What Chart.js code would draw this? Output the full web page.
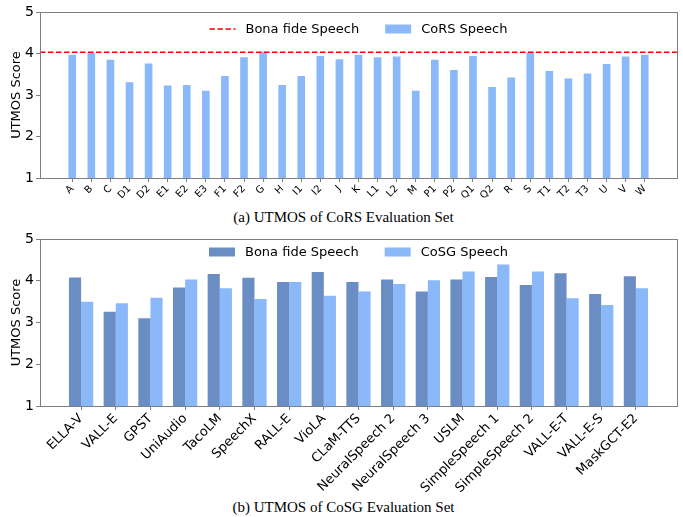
<!DOCTYPE html>
<html>
<head>
<meta charset="utf-8">
<script src="https://cdn.jsdelivr.net/npm/chart.js@4.4.1/dist/chart.umd.min.js"></script>
<style>
  html, body { margin: 0; padding: 0; background: #ffffff; }
  #page { position: relative; width: 683px; height: 517px; overflow: hidden; background: #fff; }
  .box { position: absolute; left: 0; width: 683px; }
  .cap { position: absolute; left: 0; width: 683px; text-align: center; font-family: "Liberation Serif", "Times New Roman", serif; font-size: 15px; color: #000; line-height: 18px; }
</style>
</head>
<body>
<div id="page">
  <div class="box" style="top:0px;height:200px;"><canvas id="c1" width="683" height="200"></canvas></div>
  <div class="cap" style="top:208px;left:2px;">(a) UTMOS of CoRS Evaluation Set</div>
  <div class="box" style="top:225px;height:270px;"><canvas id="c2" width="683" height="270"></canvas></div>
  <div class="cap" style="top:498px;left:2px;">(b) UTMOS of CoSG Evaluation Set</div>
</div>
<script>
// ---- Data: (a) CoRS evaluation set ----
const corsLabels = ['A','B','C','D1','D2','E1','E2','E3','F1','F2','G','H','I1','I2','J','K','L1','L2','M','P1','P2','Q1','Q2','R','S','T1','T2','T3','U','V','W'];
const corsScores = [3.97,4.01,3.85,3.31,3.76,3.23,3.24,3.10,3.46,3.91,4.04,3.24,3.46,3.94,3.86,3.97,3.91,3.93,3.10,3.85,3.60,3.94,3.19,3.42,4.03,3.58,3.40,3.52,3.75,3.93,3.97];
const corsBonaFide = 4.03;

// ---- Data: (b) CoSG evaluation set ----
const cosgLabels = ['ELLA-V','VALL-E','GPST','UniAudio','TacoLM','SpeechX','RALL-E','VioLA','CLaM-TTS','NeuralSpeech 2','NeuralSpeech 3','USLM','SimpleSpeech 1','SimpleSpeech 2','VALL-E-T','VALL-E-S','MaskGCT-E2'];
const cosgBonaFide = [4.08,3.26,3.10,3.84,4.16,4.07,3.97,4.21,3.97,4.03,3.74,4.03,4.09,3.90,4.18,3.68,4.11];
const cosgSpeech   = [3.50,3.46,3.59,4.03,3.82,3.56,3.97,3.64,3.74,3.92,4.01,4.22,4.39,4.22,3.58,3.42,3.82];

const yTicks = [1,2,3,4,5];

const FONT = '"DejaVu Sans", sans-serif';
const AXIS = '#7f7f7f';
const LIGHT = '#8ab8f8';
const DARK = '#6a8ec4';

const frame = {
  id: 'frame',
  afterDatasetsDraw(chart) {
    const a = chart.chartArea, ctx = chart.ctx;
    ctx.save();
    ctx.strokeStyle = AXIS; ctx.lineWidth = 1;
    ctx.strokeRect(Math.round(a.left) + 0.5, Math.round(a.top) + 0.5, Math.round(a.right - a.left), Math.round(a.bottom - a.top));
    ctx.restore();
  }
};

// legend drawn inside the plot area, centred at the top
const inLegend = {
  id: 'inLegend',
  afterDraw(chart, args, opts) {
    const ctx = chart.ctx, a = chart.chartArea;
    const items = opts.items;
    ctx.save();
    ctx.font = '13px ' + FONT;
    const SW = 26, GAP = 10, SEP = 26;
    const widths = items.map(it => SW + GAP + ctx.measureText(it.text).width);
    const total = widths.reduce((s, w) => s + w, 0) + SEP * (items.length - 1);
    let x = (a.left + a.right) / 2 - total / 2;
    const y = a.top + opts.dy;
    items.forEach((it, i) => {
      if (it.kind === 'line') {
        ctx.strokeStyle = it.color; ctx.lineWidth = 1.5; ctx.setLineDash([5.5, 2.5]);
        ctx.beginPath(); ctx.moveTo(x, y); ctx.lineTo(x + SW, y); ctx.stroke();
        ctx.setLineDash([]);
      } else {
        ctx.fillStyle = it.color; ctx.fillRect(x, y - 4.5, SW, 9);
      }
      ctx.fillStyle = '#000'; ctx.textBaseline = 'middle'; ctx.textAlign = 'left';
      ctx.fillText(it.text, x + SW + GAP, y + 0.5);
      x += widths[i] + SEP;
    });
    ctx.restore();
  }
};

function xAxis(labels, min, max, fontSize, axisHeight) {
  return {
    type: 'linear', min: min, max: max, offset: false,
    afterBuildTicks: s => { s.ticks = labels.map((l, i) => ({ value: i })); },
    afterFit: s => { s.height = axisHeight; s.paddingLeft = 0; s.paddingRight = 0; },
    ticks: { autoSkip: false, maxRotation: 45, minRotation: 45, padding: 1,
             font: { family: FONT, size: fontSize }, color: '#000',
             callback: v => labels[v] },
    grid: { display: true, offset: false, drawOnChartArea: false, drawTicks: true, tickLength: 4, color: AXIS },
    border: { display: true, color: AXIS, width: 1 }
  };
}
function yAxis() {
  return {
    min: 1, max: 5,
    afterBuildTicks: s => { s.ticks = yTicks.map(v => ({ value: v })); },
    afterFit: s => { s.width = 40; s.paddingTop = 0; s.paddingBottom = 0; },
    ticks: { font: { family: FONT, size: 14 }, color: '#000', padding: 2 },
    grid: { display: true, drawOnChartArea: false, drawTicks: true, tickLength: 4, color: AXIS },
    border: { display: true, color: AXIS, width: 1 },
    title: { display: true, text: 'UTMOS Score', font: { family: FONT, size: 13 }, color: '#000', padding: { top: 9, bottom: 0 } }
  };
}

// ---- Chart (a) ----
const aMin = -1.69, aMax = corsLabels.length - 1 + 1.69;
new Chart(document.getElementById('c1'), {
  type: 'bar',
  data: {
    datasets: [
      { type: 'line', label: 'Bona fide Speech', order: 0,
        data: [{ x: aMin, y: corsBonaFide }, { x: aMax, y: corsBonaFide }],
        borderColor: '#ff0000', borderWidth: 1.5, borderDash: [5.5, 2.5], pointRadius: 0, fill: false },
      { type: 'bar', label: 'CoRS Speech', order: 1,
        data: corsScores.map((v, i) => ({ x: i, y: v })),
        backgroundColor: LIGHT, borderWidth: 0, barPercentage: 0.4, categoryPercentage: 1.0 }
    ]
  },
  options: {
    responsive: false, animation: false, devicePixelRatio: 1,
    layout: { padding: { top: 12, right: 6, left: 0, bottom: 0 } },
    scales: { x: xAxis(corsLabels, aMin, aMax, 10, 22), y: yAxis() },
    plugins: {
      tooltip: { enabled: false },
      legend: { display: false },
      inLegend: { dy: 17, items: [
        { text: 'Bona fide Speech', kind: 'line', color: '#ff0000' },
        { text: 'CoRS Speech', kind: 'rect', color: LIGHT }
      ] }
    }
  },
  plugins: [frame, inLegend]
});

// ---- Chart (b) ----
const bMin = -1.185, bMax = cosgLabels.length - 1 + 1.185;
new Chart(document.getElementById('c2'), {
  type: 'bar',
  data: {
    datasets: [
      { label: 'Bona fide Speech', data: cosgBonaFide.map((v, i) => ({ x: i, y: v })),
        backgroundColor: DARK, borderWidth: 0, barPercentage: 1.0, categoryPercentage: 0.7 },
      { label: 'CoSG Speech', data: cosgSpeech.map((v, i) => ({ x: i, y: v })),
        backgroundColor: LIGHT, borderWidth: 0, barPercentage: 1.0, categoryPercentage: 0.7 }
    ]
  },
  options: {
    responsive: false, animation: false, devicePixelRatio: 1,
    layout: { padding: { top: 14, right: 6, left: 0, bottom: 0 } },
    scales: { x: xAxis(cosgLabels, bMin, bMax, 13, 89), y: yAxis() },
    plugins: {
      tooltip: { enabled: false },
      legend: { display: false },
      inLegend: { dy: 13, items: [
        { text: 'Bona fide Speech', kind: 'rect', color: DARK },
        { text: 'CoSG Speech', kind: 'rect', color: LIGHT }
      ] }
    }
  },
  plugins: [frame, inLegend]
});
</script>
</body>
</html>
